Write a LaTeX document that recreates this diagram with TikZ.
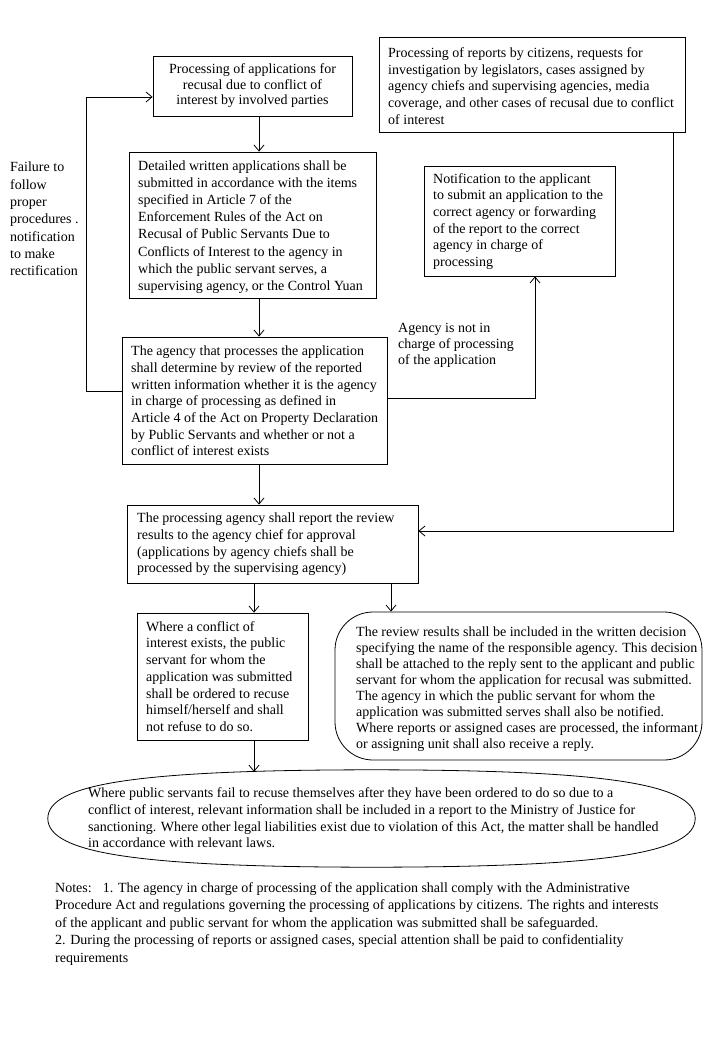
\documentclass[tikz,border=0pt]{standalone}
\usepackage{fontspec}
\setmainfont{Liberation Serif}
\usetikzlibrary{arrows.meta,shapes.geometric}
\begin{document}
\begin{tikzpicture}[x=1pt,y=-1pt,
  box/.style={draw, line width=0.8pt, inner sep=0pt},
  txt/.style={inner sep=0pt, anchor=west, align=left, font=\fontsize{14}{16.7}\selectfont},
  arr/.style={-{Straight Barb[length=6pt,width=10pt]}, line width=0.8pt}]
\useasboundingbox (0,0) rectangle (720,1040);

% boxes
\node[box, minimum width=199pt, minimum height=60pt, align=center,
      font=\fontsize{14}{15.5}\selectfont] (A) at (252.5,86)
  {Processing of applications for\\recusal due to conflict of\\interest by involved parties};
\node[box, minimum width=306pt, minimum height=95pt] (B) at (532,84.5) {};
\node[box, minimum width=247pt, minimum height=146pt] (C) at (252.5,225) {};
\node[box, minimum width=191pt, minimum height=110pt] (D) at (519.5,221) {};
\node[box, minimum width=265pt, minimum height=127pt] (E) at (254.5,400.5) {};
\node[box, minimum width=291pt, minimum height=78pt] (F) at (272.5,544) {};
\node[box, minimum width=171pt, minimum height=127pt] (G) at (222.5,676.5) {};
\node[box, minimum width=367pt, minimum height=148pt, rounded corners=38pt] (H) at (518.5,686) {};
% the oval (drawn as a slightly full ellipse-like curve)
\node[inner sep=0pt, minimum width=647pt, minimum height=97pt] (I) at (371.5,818.5) {};
\draw[line width=0.8pt] (I.west) .. controls (48,783.6) and (138.5,770) .. (I.north)
  .. controls (604.5,770) and (695,783.6) .. (I.east)
  .. controls (695,853.4) and (604.5,867) .. (I.south)
  .. controls (138.5,867) and (48,853.4) .. (I.west) -- cycle;

% texts
\node[txt] (Bt) at (388,86) {Processing of reports by citizens, requests for\\investigation by legislators, cases assigned by\\agency chiefs and supervising agencies, media\\coverage, and other cases of recusal due to conflict\\of interest};
\node[txt, font=\fontsize{14}{17.2}\selectfont] (Ct) at (138,227) {Detailed written applications shall be\\submitted in accordance with the items\\specified in Article 7 of the\\Enforcement Rules of the Act on\\Recusal of Public Servants Due to\\Conflicts of Interest to the agency in\\which the public servant serves, a\\supervising agency, or the Control Yuan};
\node[txt] (Dt) at (433,221.5) {Notification to the applicant\\to submit an application to the\\correct agency or forwarding\\of the report to the correct\\agency in charge of\\processing};
\node[txt] (Et) at (131,401) {The agency that processes the application\\shall determine by review of the reported\\written information whether it is the agency\\in charge of processing as defined in\\Article 4 of the Act on Property Declaration\\by Public Servants and whether or not a\\conflict of interest exists};
\node[txt] (Ft) at (137,544.5) {The processing agency shall report the review\\results to the agency chief for approval\\(applications by agency chiefs shall be\\processed by the supervising agency)};
\node[txt] (Gt) at (146,676.5) {Where a conflict of\\interest exists, the public\\servant for whom the\\application was submitted\\shall be ordered to recuse\\himself/herself and shall\\not refuse to do so.};
\node[txt, font=\fontsize{14}{16}\selectfont] (Ht) at (356,689) {The review results shall be included in the written decision\\specifying the name of the responsible agency. This decision\\shall be attached to the reply sent to the applicant and public\\servant for whom the application for recusal was submitted.\\The agency in which the public servant for whom the\\application was submitted serves shall also be notified.\\Where reports or assigned cases are processed, the informant\\or assigning unit shall also receive a reply.};
\node[txt] (It) at (88,818) {Where public servants fail to recuse themselves after they have been ordered to do so due to a\\conflict of interest, relevant information shall be included in a report to the Ministry of Justice for\\sanctioning. Where other legal liabilities exist due to violation of this Act, the matter shall be handled\\in accordance with relevant laws.};
\node[txt, font=\fontsize{14}{17.3}\selectfont] (Lt) at (10,219) {Failure to\\follow\\proper\\procedures .\\notification\\to make\\rectification};
\node[txt, font=\fontsize{14}{16}\selectfont] (Rt) at (398,345) {Agency is not in\\charge of processing\\of the application};
\node[txt, font=\fontsize{14}{17.5}\selectfont] (Nt) at (55,924) {Notes:\hspace{0.8em}1. The agency in charge of processing of the application shall comply with the Administrative\\Procedure Act and regulations governing the processing of applications by citizens. The rights and interests\\of the applicant and public servant for whom the application was submitted shall be safeguarded.\\2. During the processing of reports or assigned cases, special attention shall be paid to confidentiality\\requirements};

% connectors
\coordinate (xa) at (259,0);
\coordinate (xg) at (254,0);
\coordinate (xh) at (391,0);
\coordinate (l1) at (86,391);
\coordinate (l2) at (86,97);
\coordinate (r1) at (535,398);
\coordinate (b1) at (673,531);
\draw[arr] (A.south -| xa) -- (C.north -| xa);
\draw[arr] (C.south -| xa) -- (E.north -| xa);
\draw[arr] (E.south -| xa) -- (F.north -| xa);
\draw[arr] (E.west |- l1) -- (l1) -- (l2) -- (A.west |- l2);
\draw[arr] (E.east |- r1) -- (r1) -- (D.south -| r1);
\draw[arr] (B.south -| b1) -- (b1) -- (F.east |- b1);
\draw[arr] (F.south -| xg) -- (G.north -| xg);
\draw[arr] (F.south -| xh) -- (H.north -| xh);
\draw[arr] (G.south -| xg) -- ([yshift=-2pt]I.north -| xg);
\end{tikzpicture}
\end{document}
